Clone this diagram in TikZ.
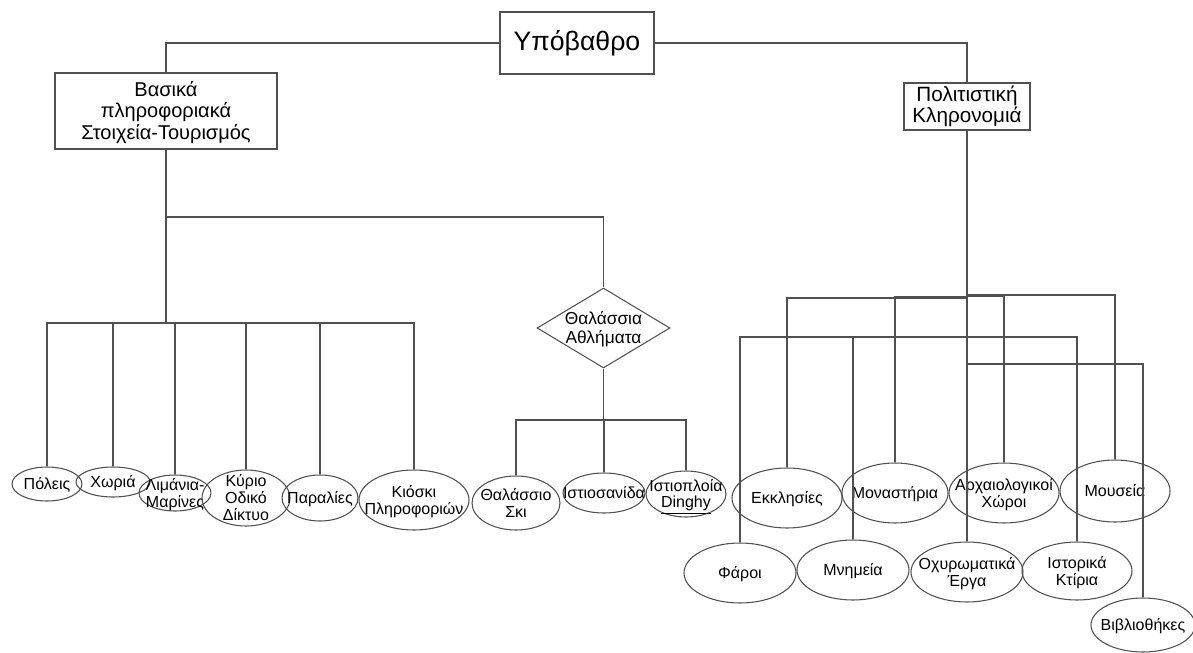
\documentclass[tikz,border=0pt]{standalone}
\usepackage{fontspec}
\setmainfont{Liberation Sans}
\usetikzlibrary{shapes.geometric}

\definecolor{linegray}{HTML}{505050}
% text of fixed-size shapes, kept from resizing them
\newcommand{\holdtext}[1]{\makebox[0pt]{\raisebox{\dimexpr(\depth-\height)/2-1.8pt\relax}[0pt][0pt]{\begin{tabular}{@{}c@{}}#1\end{tabular}}}}

\begin{document}
\begin{tikzpicture}[
    x=0.75pt, y=-0.75pt,
    link/.style={draw=linegray, line width=0.8pt},
    box/.style 2 args={draw=linegray, line width=0.8pt, rectangle, inner sep=0pt, align=center, minimum width=#1*0.75pt, minimum height=#2*0.75pt},
    sport/.style 2 args={draw=linegray, line width=0.8pt, diamond, inner sep=0pt, minimum width=#1*0.75pt, minimum height=#2*0.75pt, font=\fontsize{13}{14}\selectfont},
    leaf/.style 2 args={draw=linegray, line width=0.8pt, ellipse, inner sep=0pt, minimum width=#1*0.75pt, minimum height=#2*0.75pt, font=\fontsize{12}{12.5}\selectfont}
]
\useasboundingbox (0,0) rectangle (1193,653);

% Main boxes
\node[box={154}{62}, font=\fontsize{20}{24}\selectfont] (root) at (577,43) {Υπόβαθρο};
\node[box={222}{76}, font=\fontsize{15}{15}\selectfont] (base) at (166,111) {\holdtext{Βασικά\\πληροφοριακά\\Στοιχεία-Τουρισμός}};
\node[box={126}{47}, font=\fontsize{15.5}{16}\selectfont] (heritage) at (967,106.5) {Πολιτιστική\\Κληρονομιά};
\node[sport={133}{80}] (sea) at (603.5,328) {\holdtext{Θαλάσσια\\Αθλήματα}};

% Basic information leaves
\node[leaf={70}{34}] (polis) at (47,484) {\holdtext{Πόλεις}};
\node[leaf={74}{30}] (xoria) at (113,482) {\holdtext{Χωριά}};
\node[leaf={72}{36}] (limania) at (175,493) {\holdtext{Λιμάνια-\\Μαρίνες}};
\node[leaf={88}{56}] (odiko) at (246,498) {\holdtext{Κύριο\\Οδικό\\Δίκτυο}};
\node[leaf={76}{46}] (paralies) at (320,498) {\holdtext{Παραλίες}};
\node[leaf={110}{60}] (kiosk) at (414,500) {\holdtext{Κιόσκι\\Πληροφοριών}};

% Sea sports leaves
\node[leaf={88}{54}] (ski) at (516,503) {\holdtext{Θαλάσσιο\\Σκι}};
\node[leaf={82}{40}] (windsurf) at (604,493) {\holdtext{Ιστιοσανίδα}};
\node[leaf={80}{46}] (dinghy) at (686,494) {\holdtext{Ιστιοπλοία\\\underline{Dinghy}}};

% Cultural heritage leaves
\node[leaf={110}{60}] (ekkl) at (787,498) {\holdtext{Εκκλησίες}};
\node[leaf={106}{60}] (monast) at (895,493) {\holdtext{Μοναστήρια}};
\node[leaf={110}{60}] (arxaio) at (1004,493) {\holdtext{Αρχαιολογικοί\\Χώροι}};
\node[leaf={110}{62}] (mouseia) at (1115,491) {\holdtext{Μουσεία}};
\node[leaf={112}{60}] (faroi) at (740,573) {\holdtext{Φάροι}};
\node[leaf={112}{60}] (mnimeia) at (853,570) {\holdtext{Μνημεία}};
\node[leaf={112}{60}] (oxyr) at (967,572) {\holdtext{Οχυρωματικά\\Έργα}};
\node[leaf={110}{58}] (istorika) at (1077,571) {\holdtext{Ιστορικά\\Κτίρια}};
\node[leaf={104}{54}] (vivlio) at (1143,625) {\holdtext{Βιβλιοθήκες}};

% Top connectors
\draw[link] (root.west) -| (base.north);
\draw[link] (root.east) -| (heritage.north);

% Left branch
\coordinate (lbus) at (166,323);
\coordinate (sbus) at (166,217);
\draw[link] (base.south) -- (lbus);
\foreach \n in {polis,xoria,limania,odiko,paralies,kiosk}
    \draw[link] (lbus) -| (\n.north);
\draw[link] (sbus) -| (sea.north);

% Sea sports
\coordinate (wbus) at (603.5,420);
\draw[link] (sea.south) -- (wbus);
\foreach \n in {ski,windsurf,dinghy}
    \draw[link] (wbus) -| (\n.north);

% Cultural heritage
\foreach \n/\lev in {ekkl/298,monast/297,arxaio/296,mouseia/295,faroi/337,mnimeia/337,istorika/337,vivlio/364}
    \draw[link] (heritage.south) -- (heritage.south |- 0,\lev) -| (\n.north);
\draw[link] (heritage.south) -- (oxyr.north);

\end{tikzpicture}
\end{document}
